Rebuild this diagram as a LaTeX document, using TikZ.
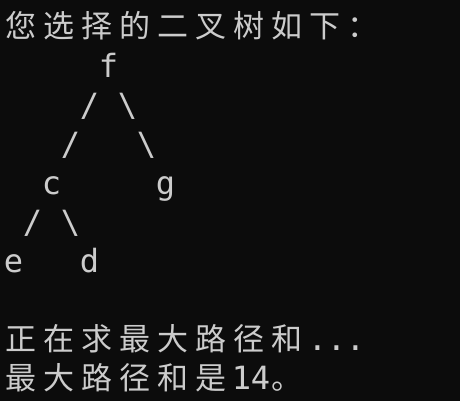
\documentclass[tikz,border=0pt]{standalone}
\usepackage{fontspec}
\setmonofont{DejaVu Sans Mono}
\newfontfamily\cjkfont{Noto Sans CJK SC}
\definecolor{termbg}{HTML}{0C0C0C}
\definecolor{termfg}{HTML}{CCCCCC}
\tikzset{
  cell/.style={text=termfg, inner sep=0pt, anchor=base, font=\ttfamily\fontsize{32}{32}\selectfont},
  wide/.style={text=termfg, inner sep=0pt, anchor=base west, xshift=1pt, font=\cjkfont\fontsize{31}{31}\selectfont}
}

\begin{document}
\begin{tikzpicture}[x=19pt, y=-39.1pt]
	% Terminal window
	\fill[termbg] (-4pt,38pt) rectangle (456pt,-363pt);
	\useasboundingbox (-4pt,38pt) rectangle (456pt,-363pt);

	% Header line
	\foreach \ch [count=\i from 0] in {您,选,择,的,二,叉,树,如,下,：}
		\node[wide] (head\i) at (2*\i,0) {\ch};

	% Tree: one character per cell
	\node[cell] (f) at (5.5,1) {f};
	\node[cell] (fl1) at (4.5,2) {/};
	\node[cell] (fr1) at (6.5,2) {\textbackslash};
	\node[cell] (fl2) at (3.5,3) {/};
	\node[cell] (fr2) at (7.5,3) {\textbackslash};
	\node[cell] (c) at (2.5,4) {c};
	\node[cell] (g) at (8.5,4) {g};
	\node[cell] (cl) at (1.5,5) {/};
	\node[cell] (cr) at (3.5,5) {\textbackslash};
	\node[cell] (e) at (0.5,6) {e};
	\node[cell] (d) at (4.5,6) {d};

	% Result lines
	\foreach \ch [count=\i from 0] in {正,在,求,最,大,路,径,和}
		\node[wide] (run\i) at (2*\i,8) {\ch};
	\foreach \k in {16,17,18}
		\node[cell] (dot\k) at (\k+0.5,8) {.};
	\foreach \ch [count=\i from 0] in {最,大,路,径,和,是}
		\node[wide] (sum\i) at (2*\i,9) {\ch};
	\node[cell] (one) at (12.5,9) {1};
	\node[cell] (four) at (13.5,9) {4};
	\node[wide] (stop) at (14,9) {。};
\end{tikzpicture}
\end{document}
